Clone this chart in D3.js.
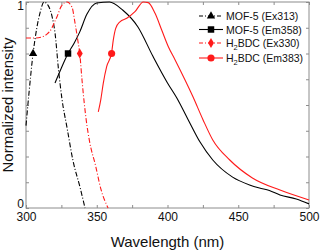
<!DOCTYPE html>
<html>
<head>
<meta charset="utf-8">
<script src="https://cdn.jsdelivr.net/npm/d3@7"></script>
<style>
  html, body { margin: 0; padding: 0; background: #fff; }
  svg { display: block; font-family: 'Liberation Sans', Arial, sans-serif; }
  .tick line { stroke: #8c8c8c; }
  .tick text { fill: #111; font-size: 12px; }
</style>
</head>
<body>
<svg width="320" height="251"></svg>
<script>
// --- data (wavelength nm, normalized intensity) ---
const mofExWl  = [300, 302, 305, 307.8, 310, 312.7, 315.5, 318.4, 320.5, 323, 325.4, 329, 333.2, 338.2, 341.7]
const mofExVal = [0.40, 0.55, 0.75, 0.88, 0.95, 1.0, 0.985, 0.93, 0.85, 0.67, 0.53, 0.39, 0.23, 0.10, 0.0]

const mofEmWl  = [320.5, 325, 329.7, 334, 338, 343, 350, 359, 368.5, 379, 389.8, 400, 406.5, 414.5, 423, 432, 446, 458, 465, 472, 479.5, 491, 500]
const mofEmVal = [0.607, 0.68, 0.75, 0.80, 0.855, 0.94, 0.995, 1.0, 0.96, 0.88, 0.735, 0.607, 0.535, 0.43, 0.32, 0.233, 0.15, 0.112, 0.097, 0.085, 0.063, 0.044, 0.02]

const bdcExWl  = [300, 306, 311, 315, 318, 320, 322, 325, 329, 332.5, 334.6, 336.7, 338, 339.6, 342.5, 345, 349, 353, 358]
const bdcExVal = [0.825, 0.825, 0.83, 0.845, 0.87, 0.90, 0.93, 0.98, 1.0, 0.975, 0.90, 0.81, 0.75, 0.62, 0.43, 0.32, 0.21, 0.09, 0.0]

const bdcEmWl  = [351.1, 352.8, 354.6, 357, 360.5, 361.7, 363.4, 366.4, 371.2, 377, 382.9, 386.4, 391.2, 395.9, 400.6, 405.3, 418, 425, 432, 444, 460, 479.5, 500]
const bdcEmVal = [0.467, 0.524, 0.605, 0.686, 0.754, 0.816, 0.872, 0.904, 0.921, 0.953, 1.0, 0.997, 0.945, 0.864, 0.783, 0.72, 0.54, 0.43, 0.33, 0.233, 0.146, 0.087, 0.039]

// one marker per curve
const markerWl  = [305, 329.7, 338, 360.5]
const markerVal = [0.75, 0.75, 0.75, 0.75]

const seriesNames = ['MOF-5 (Ex313)', 'MOF-5 (Em358)', 'H2BDC (Ex330)', 'H2BDC (Em383)']
const seriesColors = ['#000', '#000', '#ff1a1a', '#ff1a1a']
const seriesDash = ['5,2,1,2', null, '5,2,1,2', null]
const seriesMarker = ['triangle', 'square', 'diamond', 'circle']

const xTicks = d3.range(300, 501, 25)
const yTicks = d3.range(0, 1.0001, 0.125)

const series = [
  d3.zip(mofExWl, mofExVal),
  d3.zip(mofEmWl, mofEmVal),
  d3.zip(bdcExWl, bdcExVal),
  d3.zip(bdcEmWl, bdcEmVal)
]

const svg = d3.select('svg')

// scales
const x = d3.scaleLinear().domain([300, 500]).range([26, 309])
const y = d3.scaleLinear().domain([0, 1]).range([208, 2])

// axes (ticks inside the frame, on all four sides)
const fmtX = d => d % 50 === 0 ? d : ''
const fmtY = d => (d === 0 || d === 1) ? d : ''

svg.append('g')
  .attr('transform', `translate(0,${y(0)})`)
  .call(d3.axisBottom(x).tickValues(xTicks).tickSize(-3).tickSizeOuter(0).tickPadding(4).tickFormat(fmtX))
  .call(g => g.select('.domain').remove())

svg.append('g')
  .attr('transform', `translate(0,${y(1)})`)
  .call(d3.axisTop(x).tickValues(xTicks).tickSize(-3).tickSizeOuter(0).tickFormat(''))
  .call(g => g.select('.domain').remove())

const yAxis = svg.append('g')
  .attr('transform', `translate(${x(300)},0)`)
  .call(d3.axisLeft(y).tickValues(yTicks).tickSize(-3).tickSizeOuter(0).tickPadding(2).tickFormat(fmtY))
  .call(g => g.select('.domain').remove())

// nudge the two labels like the original (0 sits a bit high, 1 a bit low)
yAxis.selectAll('.tick text')
  .attr('dy', d => d === 0 ? '-0.08em' : '0.62em')

svg.append('g')
  .attr('transform', `translate(${x(500)},0)`)
  .call(d3.axisRight(y).tickValues(yTicks).tickSize(-3).tickSizeOuter(0).tickFormat(''))
  .call(g => g.select('.domain').remove())

// frame
svg.append('rect')
  .attr('x', x(300))
  .attr('y', y(1))
  .attr('width', x(500) - x(300))
  .attr('height', y(0) - y(1))
  .attr('fill', 'none')
  .attr('stroke', '#8c8c8c')
  .attr('stroke-width', 1)

// curves
const line = d3.line()
  .x(d => x(d[0]))
  .y(d => y(d[1]))
  .curve(d3.curveMonotoneX)

svg.selectAll('path.curve')
  .data(series)
  .enter()
  .append('path')
  .attr('class', 'curve')
  .attr('d', line)
  .attr('fill', 'none')
  .attr('stroke', (d, i) => seriesColors[i])
  .attr('stroke-width', 1.1)
  .attr('stroke-dasharray', (d, i) => seriesDash[i])

// marker shapes
const symbolFor = {
  triangle: d3.symbol(d3.symbolTriangle, 30),
  square: d3.symbol(d3.symbolSquare, 42),
  diamond: d3.symbol(d3.symbolDiamond, 30),
  circle: d3.symbol(d3.symbolCircle, 40)
}

svg.selectAll('path.marker')
  .data(markerWl)
  .enter()
  .append('path')
  .attr('class', 'marker')
  .attr('transform', (d, i) => `translate(${x(d)},${y(markerVal[i])})`)
  .attr('d', (d, i) => symbolFor[seriesMarker[i]]())
  .attr('fill', (d, i) => seriesColors[i])

// legend
const legendRowY = [16, 29.5, 43, 58]
const legend = svg.selectAll('g.legend')
  .data(seriesNames)
  .enter()
  .append('g')
  .attr('class', 'legend')
  .attr('transform', (d, i) => `translate(199,${legendRowY[i]})`)

legend.append('line')
  .attr('x1', 0).attr('x2', 24)
  .attr('y1', 0).attr('y2', 0)
  .attr('stroke', (d, i) => seriesColors[i])
  .attr('stroke-width', 1.1)
  .attr('stroke-dasharray', (d, i) => seriesDash[i] ? '4,2,1,2' : null)

legend.append('path')
  .attr('transform', 'translate(12,0)')
  .attr('d', (d, i) => symbolFor[seriesMarker[i]]())
  .attr('fill', (d, i) => seriesColors[i])

legend.append('text')
  .attr('x', 27)
  .attr('y', 4)
  .style('font-size', '10.5px')
  .attr('fill', '#111')
  .each(function (d) {
    const t = d3.select(this)
    if (d.startsWith('H2')) {
      t.append('tspan').text('H')
      t.append('tspan').text('2').attr('dy', 3).style('font-size', '7.5px')
      t.append('tspan').text(d.slice(2)).attr('dy', -3)
    } else {
      t.text(d)
    }
  })

// axis titles
svg.append('text')
  .attr('x', 167.5)
  .attr('y', 247)
  .attr('text-anchor', 'middle')
  .style('font-size', '15px')
  .attr('fill', '#111')
  .text('Wavelength (nm)')

svg.append('text')
  .attr('transform', 'translate(13,105) rotate(-90)')
  .attr('text-anchor', 'middle')
  .style('font-size', '15px')
  .attr('fill', '#111')
  .text('Normalized intensity')
</script>
</body>
</html>
